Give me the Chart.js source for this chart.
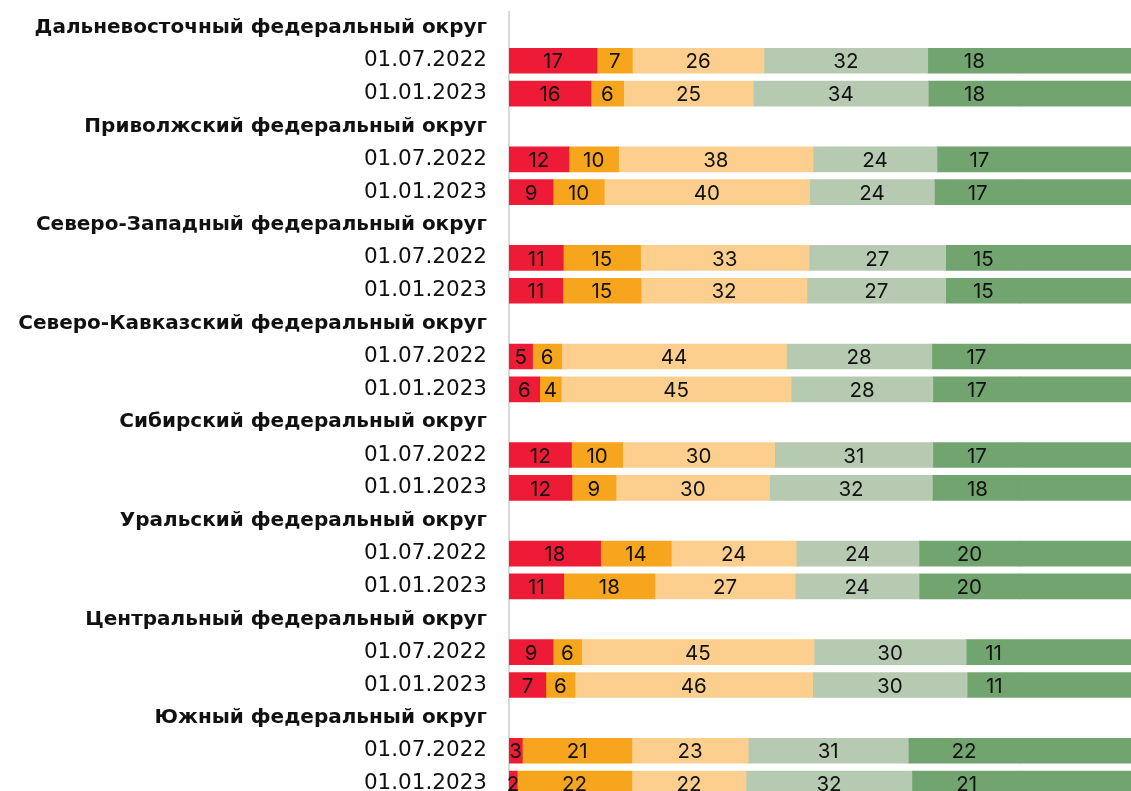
<!DOCTYPE html>
<html lang="ru">
<head>
<meta charset="UTF-8">
<title>Федеральные округа</title>
<script src="https://cdn.jsdelivr.net/npm/chart.js"></script>
<style>
  html, body { margin: 0; padding: 0; background: #fff; overflow: hidden; }
  #wrap { width: 1131px; height: 801px; position: relative; }
</style>
</head>
<body>
<div id="wrap"><canvas id="chart"></canvas></div>
<script>
// districts and the two dates shown under each of them
const districts = [
  'Дальневосточный федеральный округ',
  'Приволжский федеральный округ',
  'Северо-Западный федеральный округ',
  'Северо-Кавказский федеральный округ',
  'Сибирский федеральный округ',
  'Уральский федеральный округ',
  'Центральный федеральный округ',
  'Южный федеральный округ'
];
const dates = ['01.07.2022', '01.01.2023'];

// shares, two values per district (01.07.2022, 01.01.2023), in district order
const band1 = [17.2, 16.0, 11.7, 8.6, 10.6, 10.5, 4.6, 6.0, 12.2, 12.3, 17.9, 10.7, 8.6, 7.2, 2.6, 1.6];
const band2 = [6.9, 6.4, 9.7, 10.0, 15.1, 15.3, 5.7, 4.2, 10.0, 8.6, 13.8, 17.8, 5.6, 5.7, 21.4, 22.4];
const band3 = [25.7, 25.3, 38.0, 40.1, 32.9, 32.4, 43.9, 44.9, 29.7, 30.0, 24.4, 27.4, 45.4, 46.4, 22.7, 22.3];
const band4 = [32.0, 34.2, 24.2, 24.4, 26.7, 27.1, 28.4, 27.7, 30.9, 31.8, 24.0, 24.2, 29.7, 30.2, 31.3, 32.4];
const band5 = [18.2, 18.1, 16.6, 16.9, 14.7, 14.7, 17.4, 17.2, 17.2, 17.6, 19.7, 19.6, 10.7, 10.6, 21.8, 21.4];
// the dark green strip runs on to the right edge in the picture
const tail = [25, 25, 25, 25, 25, 25, 25, 25, 25, 25, 25, 25, 25, 25, 25, 25];

const colors = ['#ee1b37', '#f8a51e', '#fccf8f', '#b5cab0', '#72a46f'];

// one header row (no bar) and two date rows per district
const labels = [];
districts.forEach(d => { labels.push(d); dates.forEach(t => labels.push(t)); });

function rows(values) {
  const out = [];
  districts.forEach((d, i) => {
    out.push(null);
    out.push(values[i * 2]);
    out.push(values[i * 2 + 1]);
  });
  return out;
}

const datasets = [band1, band2, band3, band4, band5].map((b, i) => ({
  label: 'band' + (i + 1),
  data: rows(b),
  backgroundColor: colors[i],
  showLabels: true
}));
datasets.push({ label: 'tail', data: rows(tail), backgroundColor: colors[4], showLabels: false });

const barLabels = {
  id: 'barLabels',
  afterDatasetsDraw(chart) {
    const ctx = chart.ctx;
    ctx.save();
    ctx.font = '20.5px Inter, sans-serif';
    ctx.fillStyle = '#111';
    ctx.textAlign = 'center';
    ctx.textBaseline = 'middle';
    chart.data.datasets.forEach((ds, i) => {
      if (!ds.showLabels) return;
      chart.getDatasetMeta(i).data.forEach((bar, j) => {
        const v = ds.data[j];
        if (v == null) return;
        ctx.fillText(Math.round(v), (bar.x + bar.base) / 2, bar.y + 1.5);
      });
    });
    ctx.restore();
  }
};

new Chart(document.getElementById('chart'), {
  type: 'bar',
  data: { labels: labels, datasets: datasets },
  options: {
    indexAxis: 'y',
    responsive: true,
    maintainAspectRatio: false,
    animation: false,
    layout: { padding: { top: 11.5, bottom: 1, left: 0, right: 0 } },
    datasets: { bar: { barThickness: 25, borderWidth: 0 } },
    plugins: { legend: { display: false }, tooltip: { enabled: false } },
    scales: {
      x: { stacked: true, min: 0, max: 121.5, display: false },
      y: {
        stacked: true,
        grid: { display: false, drawTicks: false },
        border: { display: true, color: '#d9d9d9', width: 2 },
        afterFit(scale) {
          scale.width = 509;
          scale.paddingTop = 0;
          scale.paddingBottom = 0;
        },
        ticks: {
          autoSkip: false,
          padding: 22,
          color: '#111',
          font: (c) => c.index % 3 === 0
            ? { family: '"DejaVu Sans", sans-serif', size: 20, weight: 'bold' }
            : { family: '"DejaVu Sans", sans-serif', size: 21.5, weight: 'normal' }
        }
      }
    }
  },
  plugins: [barLabels]
});
</script>
</body>
</html>
